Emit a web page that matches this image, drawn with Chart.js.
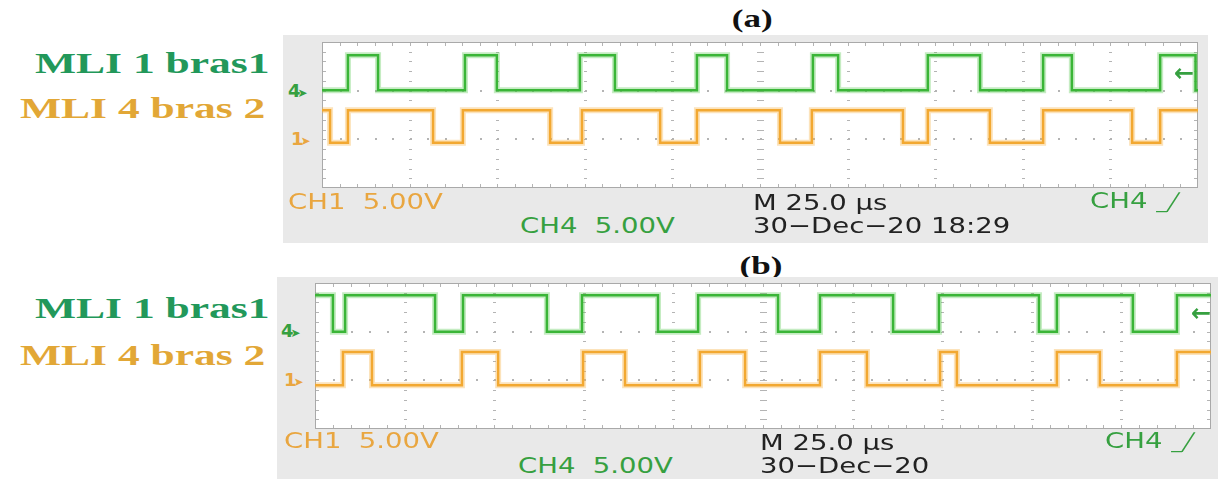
<!DOCTYPE html>
<html lang="fr">
<head>
<meta charset="UTF-8">
<title>MLI bras 1 / bras 2</title>
<script src="https://cdn.jsdelivr.net/npm/chart.js"></script>
<style>
  html, body { margin: 0; padding: 0; background: #fff; }
  body { position: relative; width: 1224px; height: 479px; overflow: hidden; }
  .abs { position: absolute; white-space: pre; }
  .frame { position: absolute; background: #e9e9e9; }
  .panel-title { font: bold 26px "Liberation Serif", "Times New Roman", serif; color: #111;
                 transform: scaleX(1.35); transform-origin: center; line-height: 26px; }
  .side { font: bold 30px "Liberation Serif", "Times New Roman", serif; line-height: 30px;
          transform: scaleX(1.45); transform-origin: left center; }
  .scope { font: 22px "DejaVu Sans", sans-serif; line-height: 22px;
           transform: scaleX(1.25); transform-origin: left center; }
  .mark { font: bold 18px "DejaVu Sans", sans-serif; line-height: 18px; letter-spacing: -3px; }
  .mark small { font-size: 12px; }
  .trig { font: bold 24px "DejaVu Sans", sans-serif; line-height: 24px; }
  .edge { font-size: 17px; }
  .green { color: #36a040; }
  .orange { color: #e9a640; }
  .dark { color: #222; }
</style>
</head>
<body>

<!-- panel (a) -->
<div class="abs panel-title" style="left:737px; top:6px;">(a)</div>
<div class="frame" style="left:283px; top:35px; width:925px; height:208px;"></div>
<div class="abs" style="left:314px; top:36px;"><canvas id="chartA" width="892" height="158"></canvas></div>

<div class="abs side" style="left:35px; top:48px; color:#22985a;">MLI 1 bras1</div>
<div class="abs side" style="left:20px; top:93px; color:#e2a736;">MLI 4 bras 2</div>

<div class="abs mark green" style="left:288px; top:82px;">4<small>➤</small></div>
<div class="abs mark orange" style="left:291px; top:130px;">1<small>➤</small></div>
<div class="abs trig green" style="left:1174px; top:61px;">←</div>

<div class="abs scope orange" style="left:288px; top:191px;">CH1  5.00V</div>
<div class="abs scope green" style="left:520px; top:215px;">CH4  5.00V</div>
<div class="abs scope dark" style="left:753px; top:192px;">M 25.0 µs</div>
<div class="abs scope dark" style="left:753px; top:215px;">30−Dec−20 18:29</div>
<div class="abs scope green" style="left:1090px; top:190px;">CH4 <span class="edge">_╱</span></div>

<!-- panel (b) -->
<div class="abs panel-title" style="left:745px; top:253px;">(b)</div>
<div class="frame" style="left:277px; top:277px; width:941px; height:202px;"></div>
<div class="abs" style="left:307px; top:277px;"><canvas id="chartB" width="912" height="158"></canvas></div>

<div class="abs side" style="left:35px; top:293px; color:#22985a;">MLI 1 bras1</div>
<div class="abs side" style="left:20px; top:340px; color:#e2a736;">MLI 4 bras 2</div>

<div class="abs mark green" style="left:281px; top:322px;">4<small>➤</small></div>
<div class="abs mark orange" style="left:284px; top:371px;">1<small>➤</small></div>
<div class="abs trig green" style="left:1191px; top:301px;">←</div>

<div class="abs scope orange" style="left:284px; top:430px;">CH1  5.00V</div>
<div class="abs scope green" style="left:518px; top:455px;">CH4  5.00V</div>
<div class="abs scope dark" style="left:760px; top:432px;">M 25.0 µs</div>
<div class="abs scope dark" style="left:760px; top:455px;">30−Dec−20</div>
<div class="abs scope green" style="left:1105px; top:430px;">CH4 <span class="edge">_╱</span></div>

<script>
// time base: 10 divisions of 25 us, vertical: 3 divisions shown
const X_MAX = 250;
const DIV_US = 25;
const Y_MAX = 3;

// switching instants (us), each one toggles the level
// (a) CH4 = MLI 1 bras1 starts low, CH1 = MLI 4 bras 2 starts high
const aCh4Edges = [7.4, 16.0, 40.8, 49.9, 73.6, 83.6, 107.0, 115.6, 140.1, 147.3, 172.9, 187.8, 205.8, 214.0, 239.2, 249.3];
const aCh4Levels = [2.01, 2.73];   // [low, high] in divisions
const aCh1Edges = [2.3, 7.4, 31.7, 40.2, 65.1, 74.2, 96.5, 107.0, 130.7, 139.8, 165.8, 172.9, 190.6, 205.8, 231.2, 239.2];
const aCh1Levels = [0.93, 1.60];

// (b) CH4 starts high, CH1 starts low
const bCh4Edges = [5.0, 8.4, 33.5, 41.3, 64.7, 74.5, 95.7, 106.9, 129.2, 140.9, 161.3, 174.1, 202.0, 207.0, 228.2, 240.5];
const bCh4Levels = [2.0, 2.75];
const bCh1Edges = [7.8, 15.9, 41.0, 51.1, 74.8, 86.5, 107.4, 120.0, 140.9, 154.0, 174.4, 179.1, 207.0, 219.0, 240.5];
const bCh1Levels = [0.9, 1.58];

// square wave points from the edge list
function squareWave(edges, levels, startHigh) {
    let high = startHigh;
    const pts = [{ x: 0, y: levels[high ? 1 : 0] }];
    edges.forEach(t => {
        pts.push({ x: t, y: levels[high ? 1 : 0] });
        high = !high;
        pts.push({ x: t, y: levels[high ? 1 : 0] });
    });
    pts.push({ x: X_MAX, y: levels[high ? 1 : 0] });
    return pts;
}

// scope graticule: border, dotted division lines, minor ticks
const graticule = {
    id: 'graticule',
    beforeDatasetsDraw(chart) {
        const { ctx, chartArea: a, scales: { x, y } } = chart;
        ctx.save();
        ctx.fillStyle = '#ffffff';
        ctx.fillRect(a.left, a.top, a.width, a.height);

        const xMinor = DIV_US / 5, yMinor = 0.2;
        const nx = X_MAX / xMinor, ny = Math.round(Y_MAX / yMinor);
        ctx.fillStyle = '#b4b4b4';

        // vertical division lines (dashes at each minor y)
        for (let d = 1; d < X_MAX / DIV_US; d++) {
            const px = Math.round(x.getPixelForValue(d * DIV_US));
            const w = d === 5 ? 7 : 3;
            for (let j = 1; j < ny; j++) {
                const py = Math.round(y.getPixelForValue(j * yMinor));
                ctx.fillRect(px - Math.floor(w / 2), py, w, 1);
            }
        }
        // horizontal division lines (dots at each minor x)
        for (let d = 1; d < Y_MAX; d++) {
            const py = Math.round(y.getPixelForValue(d));
            for (let i = 1; i < nx; i++) {
                const px = Math.round(x.getPixelForValue(i * xMinor));
                ctx.fillRect(px, py - 1, 2, 2);
            }
        }
        // ticks on the frame
        for (let i = 1; i < nx; i++) {
            const px = Math.round(x.getPixelForValue(i * xMinor));
            ctx.fillRect(px, a.top, 1, 4);
            ctx.fillRect(px, a.bottom - 4, 1, 4);
        }
        for (let j = 1; j < ny; j++) {
            const py = Math.round(y.getPixelForValue(j * yMinor));
            ctx.fillRect(a.left, py, 4, 1);
            ctx.fillRect(a.right - 4, py, 4, 1);
        }
        ctx.strokeStyle = '#a9a9a9';
        ctx.lineWidth = 1;
        ctx.strokeRect(a.left + 0.5, a.top + 0.5, a.width - 1, a.height - 1);
        ctx.restore();
    }
};

function traceSets(ch4, ch1) {
    const line = (data, color, width) => ({
        data, borderColor: color, borderWidth: width,
        pointRadius: 0, tension: 0, fill: false
    });
    return [
        line(ch4, 'rgba(90, 200, 80, 0.35)', 6),
        line(ch1, 'rgba(245, 175, 60, 0.35)', 6),
        line(ch4, '#2aab2a', 2.5),
        line(ch1, '#f0a52b', 2.5)
    ];
}

function makeScope(id, ch4, ch1, pad) {
    return new Chart(document.getElementById(id), {
        type: 'line',
        data: { datasets: traceSets(ch4, ch1) },
        options: {
            responsive: false,
            animation: false,
            devicePixelRatio: 1,
            layout: { padding: pad },
            plugins: { legend: { display: false }, tooltip: { enabled: false } },
            scales: {
                x: { type: 'linear', min: 0, max: X_MAX, display: false },
                y: { min: 0, max: Y_MAX, display: false }
            }
        },
        plugins: [graticule]
    });
}

makeScope('chartA',
    squareWave(aCh4Edges, aCh4Levels, false),
    squareWave(aCh1Edges, aCh1Levels, true),
    { left: 8, right: 8, top: 6, bottom: 6 });

makeScope('chartB',
    squareWave(bCh4Edges, bCh4Levels, true),
    squareWave(bCh1Edges, bCh1Levels, false),
    { left: 8, right: 8, top: 6, bottom: 6 });
</script>
</body>
</html>
